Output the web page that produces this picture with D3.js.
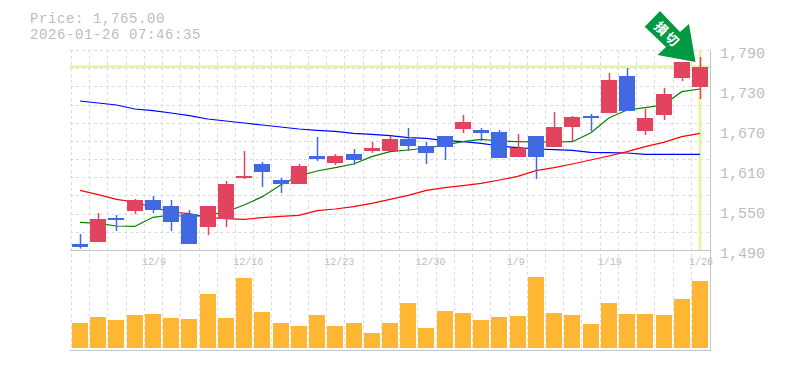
<!DOCTYPE html>
<html lang="en">
<head>
<meta charset="utf-8">
<title>Price chart</title>
<style>
  html, body { margin: 0; padding: 0; background: #fff; }
  text { font-family: "Liberation Mono", monospace; }
</style>
</head>
<body>
<div id="chart"></div>
<script src="https://cdn.jsdelivr.net/npm/d3@7"></script>
<script>
const width = 785;
const height = 370;

const dates = ['','','','','12/9','','','','','12/16','','','','','12/23','','','','','12/30','','','','','1/9','','','','','1/19','','','','','1/26'];
const opens = [1499,1502,1538,1548.5,1565,1556,1544,1524.5,1536.5,1598,1619,1595,1589,1631,1620.5,1634,1638.5,1638.5,1656.5,1646,1661,1671.5,1670,1667,1629.5,1661,1644.5,1674.5,1691,1695.5,1751,1668.5,1692.5,1748,1734.5];
const closes = [1494.5,1536.5,1535,1565,1550,1532,1499,1556,1589,1601,1607,1589,1616,1626.5,1631,1625,1643,1656.5,1646,1635.5,1644.5,1682,1665.5,1628,1643,1629.5,1674.5,1689.5,1688,1745,1698.5,1688,1724,1772,1765];
const highs = [1514,1545.5,1542.5,1566.5,1571,1565,1550,1556,1593.5,1638.5,1622,1598,1619,1659.5,1634,1641.5,1652,1661,1673,1652,1661,1692.5,1673,1670,1664,1661,1697,1691,1694,1755.5,1763,1701.5,1733,1772,1779.5];
const lows = [1492,1502,1518.5,1544,1545.5,1518.5,1499,1512.5,1524.5,1596.5,1584.5,1575.5,1589,1623.5,1617.5,1617.5,1635.5,1638.5,1638.5,1619,1625,1665.5,1653.5,1628,1629.5,1596.5,1644.5,1653.5,1668.5,1695.5,1698.5,1662.5,1685,1743.5,1716.5];
const volumes = [25,31,28,33,34,30,29,54,30,70,36,25,22,33,22,25,15,25,45,20,37,35,28,31,32,71,35,33,24,45,34,34,33,49,67];
const maShort = [1531.5,1529.8,1526,1525.3,1539,1542.5,1539.5,1542.5,1547,1557.5,1570,1587.5,1601,1608.5,1613.5,1619,1630,1637.5,1640,1643,1647.5,1652.5,1656,1653.5,1652.5,1652,1652,1652.5,1665.5,1688,1700,1703.5,1707.5,1727.5,1731.5];
const maMid = [1579.5,1573,1566,1562,1554,1547,1544.5,1539,1537,1536,1538.5,1540.5,1542,1549,1551.5,1555,1560,1566,1572,1579.5,1583.5,1586.5,1590,1595,1600.5,1609,1613.5,1619,1625,1631,1637.5,1645,1651.5,1660,1665];
const maLong = [1713.5,1710.5,1707.5,1701.5,1699,1695.5,1691.5,1686.5,1683.5,1680.5,1677.5,1674.5,1671.5,1669.5,1668,1665,1663.5,1661.5,1658.5,1657.5,1654,1652.5,1650,1646,1643.5,1641.5,1640.5,1639.5,1636.5,1636,1635.5,1633.5,1633.5,1633.5,1633.5];
const priceTicks = [1790,1730,1670,1610,1550,1490];
const gridPrices = d3.range(0, 11).map(i => 1790 - i * 300 / 11);
const lastPrice = 1765;
const signal = '損切';

const idx = d3.range(dates.length);
const x = d3.scaleBand().domain(idx).range([70.9, 709.1]);
const y = d3.scaleLinear().domain([1490, 1790]).range([250, 50]);
const yVol = d3.scaleLinear().domain([0, 100]).range([348, 248]);
const fmt = d3.format(',');

const up = '#e2435f';
const down = '#4169e1';
const gridColor = '#dcdcdc';
const frameColor = '#c4c4c4';
const lime = '#e5f5a8';
const textColor = '#bdbdbd';

const svg = d3.select('#chart').append('svg')
  .attr('width', width)
  .attr('height', height)
  .style('display', 'block');

// grid
svg.append('g').selectAll('line')
  .data(gridPrices)
  .join('line')
  .attr('x1', 70).attr('x2', 710)
  .attr('y1', d => Math.round(y(d)) + 0.5)
  .attr('y2', d => Math.round(y(d)) + 0.5)
  .attr('stroke', gridColor)
  .attr('stroke-dasharray', '3,3');

svg.append('g').selectAll('line')
  .data(idx)
  .join('line')
  .attr('x1', d => Math.round(x(d)) + 0.5)
  .attr('x2', d => Math.round(x(d)) + 0.5)
  .attr('y1', 50).attr('y2', 350)
  .attr('stroke', gridColor)
  .attr('stroke-dasharray', '3,3');

// frame
svg.append('line').attr('x1', 70).attr('x2', 710).attr('y1', 250.5).attr('y2', 250.5).attr('stroke', frameColor);
svg.append('line').attr('x1', 70).attr('x2', 710).attr('y1', 350.5).attr('y2', 350.5).attr('stroke', frameColor);
svg.append('line').attr('x1', 710.5).attr('x2', 710.5).attr('y1', 50).attr('y2', 351).attr('stroke', frameColor);

// last price markers
svg.append('line').attr('x1', 70).attr('x2', 710).attr('y1', y(lastPrice)).attr('y2', y(lastPrice))
  .attr('stroke', lime).attr('stroke-width', 3);
svg.append('line').attr('x1', x(34) + x.bandwidth() / 2).attr('x2', x(34) + x.bandwidth() / 2).attr('y1', 50).attr('y2', 250)
  .attr('stroke', lime).attr('stroke-width', 3);

// volume
svg.append('g').selectAll('rect')
  .data(idx)
  .join('rect')
  .attr('x', d => Math.round(x(d) + x.bandwidth() / 2) - 8)
  .attr('width', 16)
  .attr('y', d => yVol(volumes[d]))
  .attr('height', d => yVol(0) - yVol(volumes[d]))
  .attr('fill', '#ffb733');

// moving averages, under the candles
const line = d3.line().x((d, i) => x(i) + x.bandwidth() / 2).y(d => y(d));
[[maLong, '#0000ff'], [maShort, '#007f00'], [maMid, '#ff0000']].forEach(([s, c]) => {
  svg.append('path')
    .attr('d', line(s))
    .attr('fill', 'none')
    .attr('stroke', c)
    .attr('stroke-width', 1.2);
});

// candles
const candle = svg.append('g').selectAll('g')
  .data(idx)
  .join('g')
  .attr('fill', d => closes[d] >= opens[d] ? up : down)
  .attr('stroke', d => closes[d] >= opens[d] ? up : down);

candle.append('line')
  .attr('x1', d => Math.round(x(d) + x.bandwidth() / 2) + 0.5)
  .attr('x2', d => Math.round(x(d) + x.bandwidth() / 2) + 0.5)
  .attr('y1', d => y(highs[d]))
  .attr('y2', d => y(lows[d]))
  .attr('stroke-width', 1.5);

candle.append('rect')
  .attr('x', d => Math.round(x(d) + x.bandwidth() / 2) - 8)
  .attr('width', 16)
  .attr('y', d => y(Math.max(opens[d], closes[d])))
  .attr('height', d => Math.abs(y(opens[d]) - y(closes[d])))
  .attr('stroke', 'none')
  .attr('shape-rendering', 'crispEdges');

// signal arrow over the last candles
const arrow = svg.append('g');
arrow.append('path')
  .attr('d', d3.line()([[660,11],[644.7,26.7],[666,47],[657.5,55],[695.5,62],[689,24],[680,32]]) + 'Z')
  .attr('fill', '#009944');
arrow.append('text')
  .attr('transform', 'translate(667.8,34) rotate(45)')
  .attr('text-anchor', 'middle')
  .attr('dominant-baseline', 'central')
  .attr('font-size', 13)
  .attr('font-weight', 'bold')
  .attr('letter-spacing', 2)
  .attr('fill', '#fff')
  .style('font-family', '"Noto Sans CJK JP"')
  .text(signal);

// labels
svg.append('g').selectAll('text')
  .data(priceTicks)
  .join('text')
  .attr('x', 720)
  .attr('y', d => y(d) + 8)
  .attr('font-size', 15)
  .attr('fill', textColor)
  .text(d => fmt(d));

svg.append('g').selectAll('text')
  .data(idx.filter(i => dates[i]))
  .join('text')
  .attr('x', d => x(d) + x.bandwidth() / 2 - 11)
  .attr('y', 265)
  .attr('font-size', 10)
  .attr('fill', textColor)
  .text(d => dates[d]);

// two header rows, 14px with tracking so the pitch stays close to the original
const header = svg.append('g').attr('font-size', 14).attr('letter-spacing', 0.6).attr('fill', textColor);
header.append('text').attr('x', 30).attr('y', 22.5).text('Price: 1,765.00');
header.append('text').attr('x', 30).attr('y', 38.5).text('2026-01-26 07:46:35');
</script>
</body>
</html>
